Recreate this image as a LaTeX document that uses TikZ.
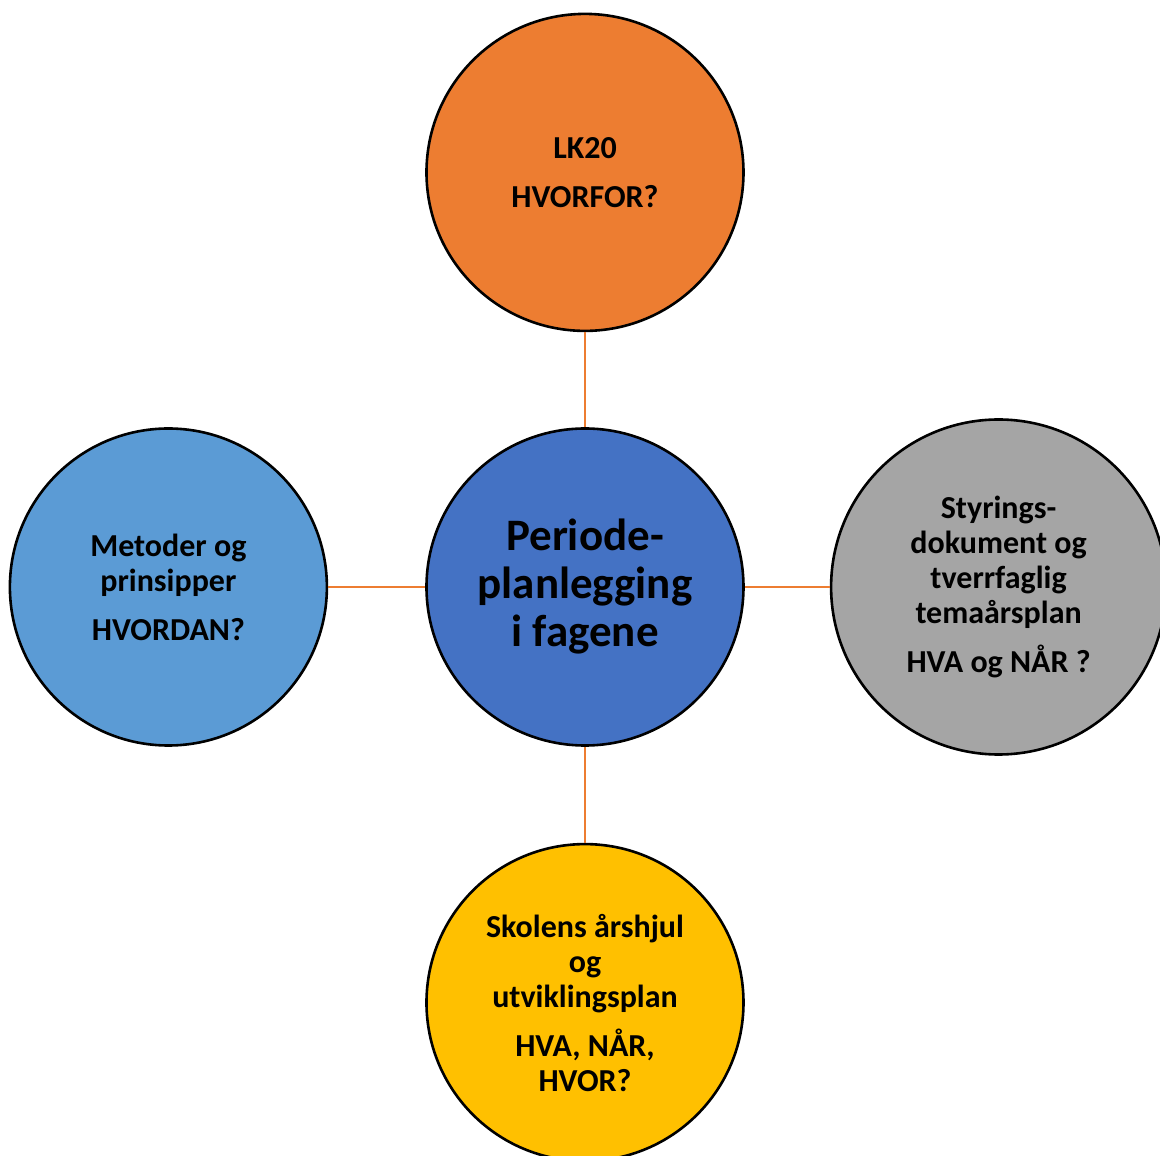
\documentclass[tikz,border=0pt]{standalone}
\usepackage{fontspec}
\setmainfont{Carlito}
\usepackage{xcolor}
\usepackage{tikz}
\usetikzlibrary{positioning}
\definecolor{lkorange}{RGB}{237,125,49}
\definecolor{midblue}{RGB}{68,114,196}
\definecolor{skyblue}{RGB}{91,155,213}
\definecolor{planegray}{RGB}{165,165,165}
\definecolor{wheelgold}{RGB}{255,192,0}

\begin{document}
\begin{tikzpicture}[
    bubble/.style={circle, draw=black, line width=2.6pt, minimum size=317pt, inner sep=0pt, align=center, font=\fontsize{32}{35}\selectfont\bfseries},
    hub/.style={bubble, font=\fontsize{45}{48}\selectfont\bfseries},
    link/.style={draw=lkorange, line width=2.3pt}
]
    \useasboundingbox (-585pt,-569pt) rectangle (575pt,587pt);

    \node[hub, fill=midblue] (plan) {Periode-\\planlegging\\i fagene};
    \node[bubble, fill=lkorange, above=95pt of plan] (lk) {LK20\\[14pt]HVORFOR?};
    \node[bubble, fill=skyblue, left=97pt of plan] (method) {Metoder og\\prinsipper\\[14pt]HVORDAN?};
    \node[bubble, fill=planegray, minimum size=335pt, right=85pt of plan] (steer) {Styrings-\\dokument og\\tverrfaglig\\temaårsplan\\[14pt]HVA og NÅR ?};
    \node[bubble, fill=wheelgold, below=96pt of plan] (wheel) {Skolens årshjul\\og\\utviklingsplan\\[14pt]HVA, NÅR,\\HVOR?};

    \draw[link] (plan) -- (lk);
    \draw[link] (plan) -- (method);
    \draw[link] (plan) -- (steer);
    \draw[link] (plan) -- (wheel);
\end{tikzpicture}
\end{document}
